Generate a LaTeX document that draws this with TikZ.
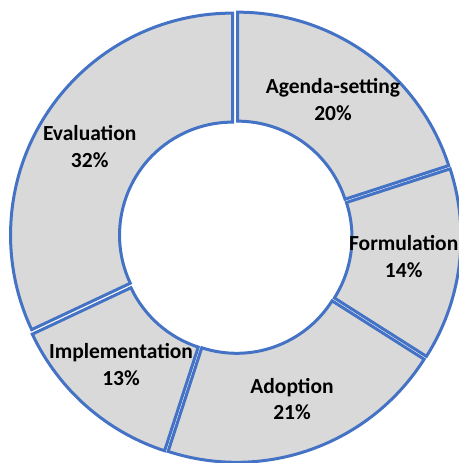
\documentclass[tikz,border=0pt]{standalone}
\usepackage{fontspec}
\setmainfont{Carlito}
\definecolor{segblue}{HTML}{4472C4}
\definecolor{seggray}{HTML}{D9D9D9}
\tikzset{
  segment/.style={fill=seggray, draw=segblue, line width=3pt},
  lbl/.style={font=\fontsize{21.5}{26}\selectfont\bfseries, inner sep=0pt, anchor=base}
}
\begin{document}
\begin{tikzpicture}[x=1pt, y=1pt]
    \useasboundingbox (0,0) rectangle (458,463);
    \coordinate (c) at (235.5,226);
    % donut segments, each pushed out along its middle angle
    \foreach \a/\b in {18/90, -32.4/18, -108/-32.4, -154.8/-108, 90/205.2} {
        \pgfmathsetmacro{\m}{(\a+\b)/2}
        \draw[segment, shift={(c)}, shift={(\m:3.5)}]
            (\a:222) arc[start angle=\a, end angle=\b, radius=222]
            -- (\b:113) arc[start angle=\b, end angle=\a, radius=113] -- cycle;
    }
    % labels: name, then share below it
    \foreach \n/\x/\y/\t/\p in {agenda/333/369/Agenda-setting/20,
                                formulation/403.7/212.3/Formulation/14,
                                adoption/292/69.7/Adoption/21,
                                implementation/121/104/Implementation/13,
                                evaluation/89.7/322/Evaluation/32} {
        \node[lbl] (\n) at (\x,\y) {\t};
        \node[lbl] (\n-pct) at (\x,\y-26.5) {\p\%};
    }
\end{tikzpicture}
\end{document}
